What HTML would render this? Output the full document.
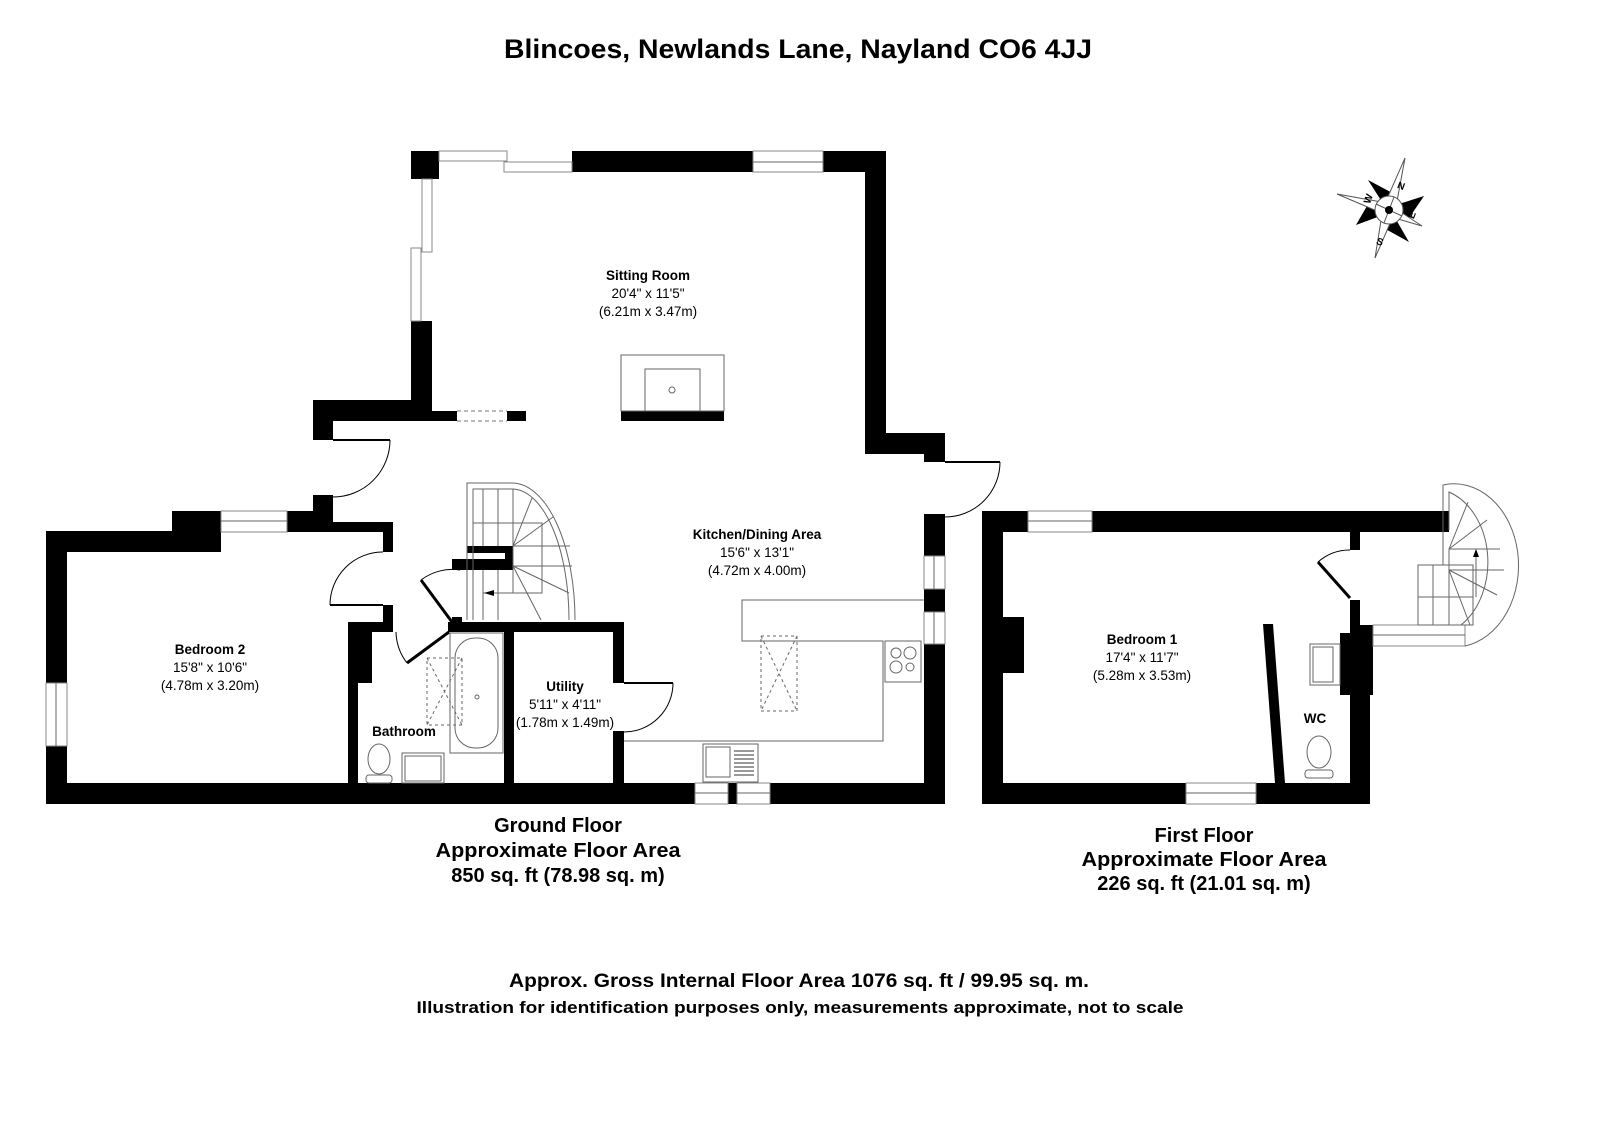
<!DOCTYPE html>
<html><head><meta charset="utf-8"><style>
html,body{margin:0;padding:0;background:#fff;}
svg{display:block;}
text{font-family:"Liberation Sans",Arial,sans-serif;fill:#000;}
.b{font-weight:bold;}
.win{fill:#fff;stroke:#888;stroke-width:1;}
.ln{fill:none;stroke:#666;stroke-width:1;}
.dk{fill:none;stroke:#000;stroke-width:1;}
</style></head><body>
<svg width="1600" height="1130" viewBox="0 0 1600 1130" xmlns="http://www.w3.org/2000/svg">
<rect width="1600" height="1130" fill="#fff"/>
<text x="798" y="58" text-anchor="middle" class="b" font-size="27" textLength="588" lengthAdjust="spacingAndGlyphs">Blincoes, Newlands Lane, Nayland CO6 4JJ</text>

<g fill="#000">
<rect x="411" y="151" width="28" height="28"/>
<rect x="572" y="151" width="181" height="21"/>
<rect x="823" y="151" width="63" height="21"/>
<rect x="865" y="151" width="21" height="303"/>
<rect x="865" y="433" width="80" height="21"/>
<rect x="924" y="433" width="21" height="29"/>
<rect x="411" y="321" width="21" height="100"/>
<rect x="313" y="400" width="119" height="21"/>
<rect x="432" y="411" width="25" height="10"/>
<rect x="507" y="411" width="19" height="10"/>
<rect x="313" y="400" width="20" height="40"/>
<rect x="46" y="531" width="147" height="21"/>
<rect x="172" y="511" width="49" height="41"/>
<rect x="287" y="511" width="46" height="21"/>
<rect x="313" y="495" width="20" height="37"/>
<rect x="333" y="522" width="60" height="10"/>
<rect x="383" y="522" width="10" height="30"/>
<rect x="383" y="605" width="10" height="27"/>
<rect x="348" y="622" width="45" height="10"/>
<rect x="448" y="622" width="176" height="10"/>
<rect x="452" y="617" width="10" height="6"/>
<rect x="348" y="632" width="24" height="51"/>
<rect x="348" y="632" width="10" height="160"/>
<rect x="504" y="622" width="10" height="170"/>
<rect x="613" y="622" width="11" height="61"/>
<rect x="613" y="731" width="11" height="60"/>
<rect x="46" y="531" width="21" height="152"/>
<rect x="46" y="746" width="21" height="58"/>
<rect x="46" y="783" width="649" height="21"/>
<rect x="728" y="783" width="9" height="21"/>
<rect x="770" y="783" width="175" height="21"/>
<rect x="924" y="514" width="21" height="42"/>
<rect x="924" y="589" width="21" height="23"/>
<rect x="924" y="644" width="21" height="160"/>
<rect x="467" y="546" width="46" height="7"/>
<rect x="452" y="559" width="61" height="11"/>
<rect x="505" y="546" width="8" height="24"/>
<rect x="621" y="411" width="103" height="10"/>
</g>
<g>
<rect class="win" x="439" y="151" width="68" height="10"/>
<rect class="win" x="504" y="162" width="68" height="10"/>
<rect class="win" x="753" y="151" width="70" height="21"/><line class="ln" x1="753" y1="162" x2="823" y2="162"/>
<rect class="win" x="422" y="179" width="10" height="73"/>
<rect class="win" x="411" y="248" width="10" height="73"/>
<rect class="win" x="221" y="511" width="66" height="21"/><line class="ln" x1="221" y1="521" x2="287" y2="521"/>
<rect class="win" x="46" y="683" width="21" height="63"/><line class="ln" x1="56" y1="683" x2="56" y2="746"/>
<rect class="win" x="924" y="556" width="21" height="33"/><line class="ln" x1="934" y1="556" x2="934" y2="589"/>
<rect class="win" x="924" y="612" width="21" height="32"/><line class="ln" x1="934" y1="612" x2="934" y2="644"/>
<rect class="win" x="695" y="783" width="33" height="21"/><line class="ln" x1="695" y1="793" x2="728" y2="793"/>
<rect class="win" x="737" y="783" width="33" height="21"/><line class="ln" x1="737" y1="793" x2="770" y2="793"/>
<line x1="457" y1="411" x2="507" y2="411" stroke="#777" stroke-dasharray="4,3"/>
<line x1="457" y1="421" x2="507" y2="421" stroke="#777" stroke-dasharray="4,3"/>
</g>
<g>
<line x1="333" y1="440" x2="390" y2="440" stroke="#000" stroke-width="2"/>
<path class="dk" d="M390,440 A57,57 0 0 1 333,497"/>
<line x1="330" y1="605" x2="383" y2="605" stroke="#000" stroke-width="2"/>
<path class="dk" d="M330,605 A53,53 0 0 1 383,552"/>
<line x1="421" y1="580" x2="452" y2="622" stroke="#000" stroke-width="3"/>
<path class="dk" d="M421,580 A52,52 0 0 1 460,570"/>
<line x1="449" y1="632" x2="407" y2="663" stroke="#000" stroke-width="3"/>
<path class="dk" d="M396,632 A53,53 0 0 0 407,663"/>
<line x1="624" y1="683" x2="673" y2="683" stroke="#000" stroke-width="2"/>
<path class="dk" d="M673,683 A49,49 0 0 1 624,732"/>
<line x1="945" y1="462" x2="1000" y2="462" stroke="#000" stroke-width="2"/>
<path class="dk" d="M1000,462 A55,55 0 0 1 945,517"/>
</g>
<rect x="621" y="355" width="103" height="56" class="ln"/>
<rect x="645" y="369" width="55" height="42" class="ln"/>
<circle cx="672" cy="390" r="3" class="ln"/>
<g class="ln">
<path d="M467,620 V483 H512 A63,137 0 0 1 575,620"/>
<path d="M473,620 V489 H512 A57,131 0 0 1 569,620"/>
<line x1="483" y1="489" x2="483" y2="546"/>
<line x1="498" y1="489" x2="498" y2="546"/>
<line x1="513" y1="489" x2="513" y2="546"/>
<line x1="473" y1="523" x2="542" y2="523"/>
<rect x="513" y="523" width="29" height="70"/>
<line x1="513" y1="546" x2="570" y2="546"/>
<line x1="513" y1="566" x2="572" y2="566"/>
<line x1="513" y1="546" x2="532" y2="498"/>
<line x1="513" y1="546" x2="553" y2="517"/>
<line x1="513" y1="566" x2="569" y2="593"/>
<line x1="513" y1="566" x2="541" y2="620"/>
<line x1="483" y1="570" x2="483" y2="620"/>
<line x1="498" y1="570" x2="498" y2="620"/>
<line x1="483" y1="593" x2="513" y2="593"/>
</g>
<polygon points="484,593 494,590 494,596" fill="#000"/>
<g class="ln">
<rect x="450" y="633" width="53" height="120"/>
<rect x="455" y="638" width="43" height="110" rx="20"/>
<circle cx="477" cy="697" r="2"/>
<rect x="427" y="658" width="35" height="67" stroke-dasharray="3,3"/>
<line x1="427" y1="658" x2="462" y2="725" stroke-dasharray="3,3"/>
<line x1="462" y1="658" x2="427" y2="725" stroke-dasharray="3,3"/>
<ellipse cx="379" cy="759" rx="11" ry="15"/>
<rect x="366" y="775" width="26" height="8" rx="3"/>
<rect x="402" y="753" width="42" height="30"/>
<rect x="405" y="756" width="36" height="25"/>
<path d="M924,600 H742 V641 H883 V741 H624"/>
<rect x="885" y="641" width="36" height="41"/>
<circle cx="896" cy="653" r="5"/><circle cx="910" cy="653" r="6"/>
<circle cx="896" cy="667" r="6"/><circle cx="910" cy="667" r="4"/>
<rect x="761" y="636" width="36" height="75" stroke-dasharray="3,3"/>
<line x1="761" y1="636" x2="797" y2="711" stroke-dasharray="3,3"/>
<line x1="797" y1="636" x2="761" y2="711" stroke-dasharray="3,3"/>
<rect x="703" y="744" width="55" height="38"/>
<rect x="706" y="747" width="24" height="30"/>
</g>
<g stroke="#333" stroke-width="1">
<line x1="734" y1="751" x2="754" y2="751"/><line x1="734" y1="755" x2="754" y2="755"/>
<line x1="734" y1="759" x2="754" y2="759"/><line x1="734" y1="763" x2="754" y2="763"/>
<line x1="734" y1="767" x2="754" y2="767"/><line x1="734" y1="771" x2="754" y2="771"/>
<line x1="734" y1="775" x2="754" y2="775"/>
</g>

<g fill="#000">
<rect x="982" y="511" width="21" height="293"/>
<rect x="982" y="511" width="46" height="21"/>
<rect x="1092" y="511" width="357" height="21"/>
<rect x="1003" y="617" width="21" height="56"/>
<rect x="982" y="783" width="204" height="21"/>
<rect x="1256" y="783" width="114" height="21"/>
<rect x="1350" y="532" width="10" height="18"/>
<rect x="1350" y="600" width="10" height="25"/>
<rect x="1350" y="625" width="20" height="179"/>
<rect x="1340" y="633" width="33" height="62"/>
<rect x="1360" y="625" width="13" height="21"/>
<polygon points="1263,624 1273,624 1285,783 1275,783"/>
</g>
<rect class="win" x="1028" y="511" width="64" height="21"/><line class="ln" x1="1028" y1="521" x2="1092" y2="521"/>
<rect class="win" x="1186" y="783" width="70" height="21"/><line class="ln" x1="1186" y1="793" x2="1256" y2="793"/>
<rect class="win" x="1373" y="625" width="92" height="21"/><line class="ln" x1="1373" y1="635" x2="1465" y2="635"/>
<line x1="1318" y1="562" x2="1350" y2="598" stroke="#000" stroke-width="3"/>
<path class="dk" d="M1318,562 A48,48 0 0 1 1350,550"/>
<g class="ln">
<path d="M1443,530 V485 A64,81 0 0 1 1465,646"/>
<path d="M1449,530 V492 A57,74 0 0 1 1461,625"/>
<line x1="1443" y1="530" x2="1443" y2="565"/>
<line x1="1443" y1="565" x2="1418" y2="565"/>
<rect x="1418" y="565" width="55" height="60"/>
<line x1="1433" y1="565" x2="1433" y2="625"/>
<line x1="1449" y1="549" x2="1449" y2="625"/>
<line x1="1418" y1="597" x2="1473" y2="597"/>
<line x1="1449" y1="549" x2="1500" y2="549"/>
<line x1="1449" y1="570" x2="1504" y2="570"/>
<line x1="1449" y1="549" x2="1487" y2="520"/>
<line x1="1449" y1="549" x2="1468" y2="502"/>
<line x1="1449" y1="570" x2="1497" y2="595"/>
<line x1="1449" y1="570" x2="1470" y2="625"/>
<line x1="1476" y1="550" x2="1476" y2="597"/>
<rect x="1310" y="644" width="30" height="41"/>
<rect x="1313" y="647" width="20" height="35"/>
<ellipse cx="1319" cy="752" rx="12" ry="16"/>
<rect x="1305" y="770" width="28" height="8" rx="3"/>
</g>
<polygon points="1476,549 1473,557 1479,557" fill="#000"/>

<g>
<polygon points="1384,205 1368,180 1398,196" fill="#000"/>
<polygon points="1396,205 1424,196 1407,221" fill="#000"/>
<polygon points="1394,216 1409,242 1380,226" fill="#000"/>
<polygon points="1383,215 1356,225 1371,199" fill="#000"/>
<polygon points="1383,208 1405,158 1395,212" fill="#fff" stroke="#555"/>
<polygon points="1383,208 1375,258 1395,212" fill="#fff" stroke="#555"/>
<polygon points="1387,203 1337,194 1391,217" fill="#fff" stroke="#555"/>
<polygon points="1387,203 1422,226 1391,217" fill="#fff" stroke="#555"/>
<circle cx="1389" cy="210" r="14" fill="#fff" stroke="#555"/>
<line x1="1376" y1="204" x2="1402" y2="216" stroke="#555"/>
<line x1="1394" y1="197" x2="1384" y2="223" stroke="#555"/>
<circle cx="1389" cy="210" r="4" fill="#000"/>
<text x="1398" y="188" font-size="10" class="b" transform="rotate(20 1398 184)">N</text>
<text x="1366" y="207" font-size="10" class="b" transform="rotate(-70 1366 203)">W</text>
<text x="1410" y="222" font-size="10" class="b" transform="rotate(-70 1410 218)">E</text>
<text x="1377" y="244" font-size="10" class="b" transform="rotate(20 1377 240)">S</text>
</g>

<g text-anchor="middle" font-size="13.5">
<text x="648" y="280" class="b">Sitting Room</text>
<text x="648" y="298">20'4" x 11'5"</text>
<text x="648" y="316">(6.21m x 3.47m)</text>
<text x="757" y="539" class="b">Kitchen/Dining Area</text>
<text x="757" y="557">15'6" x 13'1"</text>
<text x="757" y="575">(4.72m x 4.00m)</text>
<text x="210" y="654" class="b">Bedroom 2</text>
<text x="210" y="672">15'8" x 10'6"</text>
<text x="210" y="690">(4.78m x 3.20m)</text>
<text x="565" y="691" class="b">Utility</text>
<text x="565" y="709">5'11" x 4'11"</text>
<text x="565" y="727">(1.78m x 1.49m)</text>
<text x="404" y="736" class="b">Bathroom</text>
<text x="1142" y="644" class="b">Bedroom 1</text>
<text x="1142" y="662">17'4" x 11'7"</text>
<text x="1142" y="680">(5.28m x 3.53m)</text>
<text x="1315" y="723" class="b">WC</text>
</g>

<g text-anchor="middle" class="b" font-size="20">
<text x="558" y="832">Ground Floor</text>
<text x="558" y="857" textLength="245" lengthAdjust="spacingAndGlyphs">Approximate Floor Area</text>
<text x="558" y="882">850 sq. ft (78.98 sq. m)</text>
<text x="1204" y="842">First Floor</text>
<text x="1204" y="866" textLength="245" lengthAdjust="spacingAndGlyphs">Approximate Floor Area</text>
<text x="1204" y="890">226 sq. ft (21.01 sq. m)</text>
</g>
<text x="799" y="987" text-anchor="middle" class="b" font-size="19" textLength="580" lengthAdjust="spacingAndGlyphs">Approx. Gross Internal Floor Area 1076 sq. ft / 99.95 sq. m.</text>
<text x="800" y="1013" text-anchor="middle" class="b" font-size="17" textLength="767" lengthAdjust="spacingAndGlyphs">Illustration for identification purposes only, measurements approximate, not to scale</text>
</svg>
</body></html>
